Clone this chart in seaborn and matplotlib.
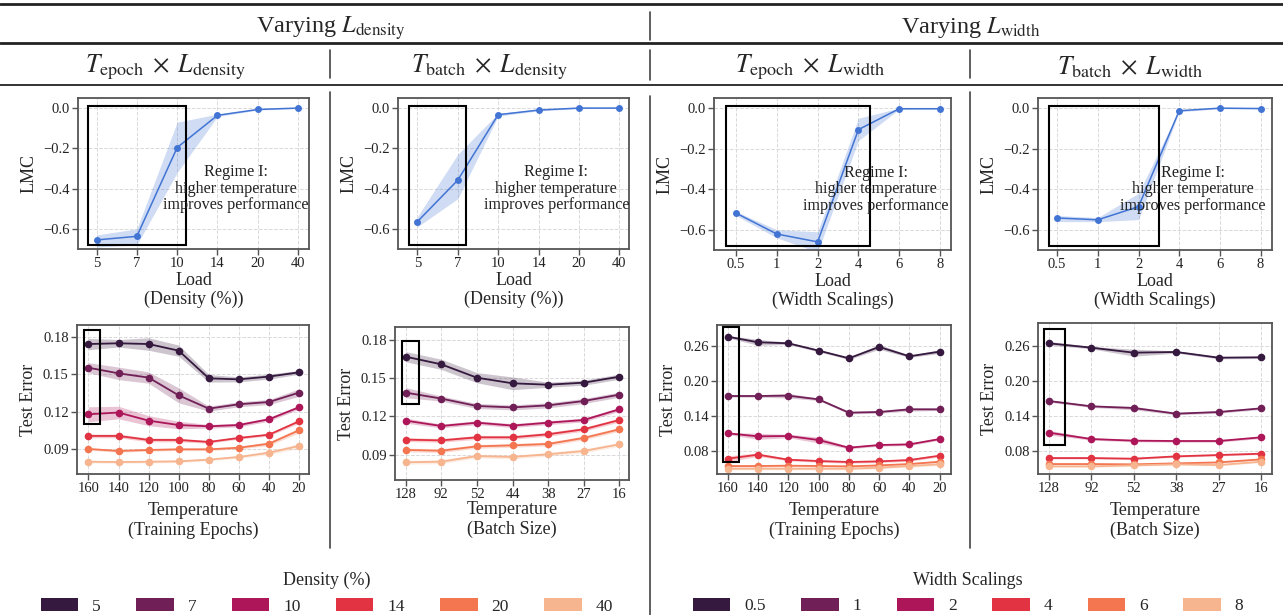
import numpy as np
import pandas as pd
import matplotlib
matplotlib.use("Agg")
import matplotlib.pyplot as plt
import seaborn as sns
from matplotlib.patches import Patch, Rectangle
from matplotlib.lines import Line2D

# ---------------- data ----------------
density_cats = ["5", "7", "10", "14", "20", "40"]
width_cats = ["0.5", "1", "2", "4", "6", "8"]
epoch_ticks = ["160", "140", "120", "100", "80", "60", "40", "20"]
batch_ticks_d = ["128", "92", "52", "44", "38", "27", "16"]
batch_ticks_w = ["128", "92", "52", "38", "27", "16"]

# LMC (mid, lower, upper)
lmc_epoch_density = [-0.655, -0.637, -0.196, -0.036, -0.007, 0.0]
lmc_epoch_density_lo = [-0.69, -0.68, -0.32, -0.042, -0.010, -0.002]
lmc_epoch_density_hi = [-0.63, -0.60, -0.07, -0.030, -0.004, 0.002]

lmc_batch_density = [-0.564, -0.358, -0.033, -0.010, 0.0, 0.0]
lmc_batch_density_lo = [-0.59, -0.45, -0.040, -0.014, -0.003, -0.002]
lmc_batch_density_hi = [-0.54, -0.23, -0.026, -0.006, 0.003, 0.002]

lmc_epoch_width = [-0.518, -0.621, -0.660, -0.106, -0.003, -0.003]
lmc_epoch_width_lo = [-0.53, -0.64, -0.71, -0.16, -0.006, -0.005]
lmc_epoch_width_hi = [-0.51, -0.60, -0.61, -0.05, 0.000, -0.001]

lmc_batch_width = [-0.542, -0.551, -0.486, -0.013, 0.0, -0.002]
lmc_batch_width_lo = [-0.56, -0.56, -0.55, -0.018, -0.003, -0.004]
lmc_batch_width_hi = [-0.53, -0.54, -0.42, -0.008, 0.003, 0.000]

# Test error: T_epoch x L_density
te_ed = {
    "5":  [0.1741, 0.1747, 0.1741, 0.1688, 0.1467, 0.1459, 0.1481, 0.1515],
    "7":  [0.1552, 0.1507, 0.1473, 0.1331, 0.1225, 0.1260, 0.1278, 0.1353],
    "10": [0.1180, 0.1194, 0.1129, 0.1094, 0.1084, 0.1094, 0.1140, 0.1236],
    "14": [0.1007, 0.1007, 0.0975, 0.0975, 0.0959, 0.0991, 0.1017, 0.1124],
    "20": [0.0903, 0.0887, 0.0895, 0.0900, 0.0900, 0.0913, 0.0945, 0.1052],
    "40": [0.0801, 0.0799, 0.0801, 0.0804, 0.0818, 0.0839, 0.0873, 0.0927],
}
te_ed_err = {
    "5":  [0.0045, 0.003, 0.005, 0.0045, 0.003, 0.002, 0.002, 0.0015],
    "7":  [0.004, 0.005, 0.0045, 0.006, 0.002, 0.002, 0.002, 0.003],
    "10": [0.006, 0.005, 0.004, 0.003, 0.0015, 0.0015, 0.0015, 0.0015],
    "14": [0.0015, 0.0015, 0.0015, 0.0015, 0.001, 0.001, 0.001, 0.0015],
    "20": [0.001, 0.001, 0.001, 0.001, 0.001, 0.001, 0.0015, 0.002],
    "40": [0.001, 0.001, 0.001, 0.001, 0.001, 0.001, 0.0015, 0.002],
}
# Test error: T_batch x L_density
te_bd = {
    "5":  [0.1669, 0.1609, 0.1504, 0.1460, 0.1449, 0.1465, 0.1512],
    "7":  [0.1387, 0.1340, 0.1282, 0.1271, 0.1287, 0.1321, 0.1371],
    "10": [0.1167, 0.1125, 0.1151, 0.1128, 0.1151, 0.1172, 0.1256],
    "14": [0.1018, 0.1012, 0.1036, 0.1036, 0.1060, 0.1099, 0.1172],
    "20": [0.0937, 0.0931, 0.0965, 0.0973, 0.0984, 0.1031, 0.1099],
    "40": [0.0840, 0.0845, 0.0889, 0.0882, 0.0903, 0.0929, 0.0981],
}
te_bd_err = {
    "5":  [0.004, 0.004, 0.004, 0.005, 0.002, 0.002, 0.002],
    "7":  [0.004, 0.002, 0.002, 0.002, 0.002, 0.002, 0.002],
    "10": [0.002, 0.0015, 0.0015, 0.0015, 0.0015, 0.0015, 0.0015],
    "14": [0.0015, 0.0015, 0.0015, 0.0015, 0.0015, 0.0015, 0.0015],
    "20": [0.0015, 0.0015, 0.0015, 0.0015, 0.0015, 0.0015, 0.0015],
    "40": [0.0015, 0.0015, 0.0015, 0.0015, 0.0015, 0.0015, 0.0015],
}
# Test error: T_epoch x L_width
te_ew = {
    "0.5": [0.2760, 0.2663, 0.2646, 0.2520, 0.2388, 0.2583, 0.2422, 0.2503],
    "1":   [0.1740, 0.1740, 0.1746, 0.1683, 0.1454, 0.1465, 0.1511, 0.1511],
    "2":   [0.1099, 0.1047, 0.1053, 0.0984, 0.0852, 0.0898, 0.0909, 0.1001],
    "4":   [0.0663, 0.0732, 0.0646, 0.0623, 0.0606, 0.0617, 0.0640, 0.0715],
    "6":   [0.0537, 0.0537, 0.0543, 0.0537, 0.0531, 0.0548, 0.0571, 0.0611],
    "8":   [0.0491, 0.0491, 0.0491, 0.0491, 0.0491, 0.0508, 0.0537, 0.0566],
}
te_ew_err = {
    "0.5": [0.002, 0.005, 0.002, 0.002, 0.002, 0.004, 0.002, 0.003],
    "1":   [0.002, 0.002, 0.004, 0.002, 0.002, 0.002, 0.003, 0.002],
    "2":   [0.002, 0.005, 0.003, 0.005, 0.002, 0.002, 0.002, 0.002],
    "4":   [0.005, 0.003, 0.002, 0.002, 0.002, 0.002, 0.002, 0.002],
    "6":   [0.002, 0.002, 0.002, 0.002, 0.002, 0.002, 0.002, 0.002],
    "8":   [0.002, 0.002, 0.002, 0.002, 0.002, 0.002, 0.002, 0.002],
}
# Test error: T_batch x L_width
te_bw = {
    "0.5": [0.2646, 0.2571, 0.2485, 0.2497, 0.2399, 0.2405],
    "1":   [0.1654, 0.1563, 0.1534, 0.1437, 0.1465, 0.1528],
    "2":   [0.1110, 0.1001, 0.0973, 0.0967, 0.0967, 0.1030],
    "4":   [0.0674, 0.0674, 0.0663, 0.0703, 0.0726, 0.0749],
    "6":   [0.0571, 0.0571, 0.0566, 0.0583, 0.0600, 0.0652],
    "8":   [0.0531, 0.0531, 0.0548, 0.0566, 0.0554, 0.0611],
}
te_bw_err = {
    "0.5": [0.003, 0.002, 0.006, 0.002, 0.002, 0.002],
    "1":   [0.002, 0.002, 0.003, 0.002, 0.002, 0.002],
    "2":   [0.004, 0.002, 0.002, 0.002, 0.002, 0.002],
    "4":   [0.0015, 0.0015, 0.0015, 0.0015, 0.0015, 0.0015],
    "6":   [0.0015, 0.0015, 0.0015, 0.0015, 0.0015, 0.0015],
    "8":   [0.0015, 0.0015, 0.0015, 0.0015, 0.0015, 0.0015],
}

# highlight boxes (x0, x1, y0, y1) in category / data units
box_top = [(-0.21, 2.21, -0.68, 0.01), (-0.2, 1.2, -0.68, 0.01),
           (-0.25, 3.29, -0.68, 0.01), (-0.2, 2.5, -0.68, 0.01)]
box_bot = [(-0.14, 0.37, 0.110, 0.1853), (-0.11, 0.37, 0.130, 0.1795),
           (-0.15, 0.36, 0.061, 0.292), (-0.12, 0.38, 0.089, 0.290)]

# ---------------- style ----------------
sns.set_theme(style="ticks")
plt.rcParams["font.family"] = ["Liberation Serif", "DejaVu Serif"]
plt.rcParams["mathtext.fontset"] = "stix"
plt.rcParams["axes.unicode_minus"] = True

W, H = 1283, 615
fig = plt.figure(figsize=(W / 100, H / 100), dpi=100)
fig.patch.set_facecolor("white")

def ax_px(l, t, r, b):
    return fig.add_axes([l / W, 1 - b / H, (r - l) / W, (b - t) / H])

SPINE = "#555555"
BLUE = "#4274d4"
palette = sns.color_palette("rocket", 6)

def style_ax(ax):
    for s in ax.spines.values():
        s.set_color(SPINE)
        s.set_linewidth(1.3)
    ax.grid(True, linestyle="--", color="#d9d9d9", linewidth=0.7)
    ax.set_axisbelow(True)
    ax.tick_params(axis="both", labelsize=10.5, length=4, width=1, color=SPINE,
                   labelcolor="#222222", pad=2)

def band_frame(cats, mid, lo, hi, series=None):
    rows = []
    for c, m, a, b in zip(cats, mid, lo, hi):
        for v in (a, m, b):
            rows.append({"x": c, "y": v, "s": series})
    return rows

top_specs = [
    ((78, 98, 309, 249), density_cats, lmc_epoch_density, lmc_epoch_density_lo, lmc_epoch_density_hi,
     (-0.46, 5.27), "Load\n(Density (%))", 3.45),
    ((398, 98, 629, 249), density_cats, lmc_batch_density, lmc_batch_density_lo, lmc_batch_density_hi,
     (-0.48, 5.24), "Load\n(Density (%))", 3.44),
    ((714, 98, 951, 250), width_cats, lmc_epoch_width, lmc_epoch_width_lo, lmc_epoch_width_hi,
     (-0.54, 5.27), "Load\n(Width Scalings)", 3.43),
    ((1038, 98, 1272, 250), width_cats, lmc_batch_width, lmc_batch_width_lo, lmc_batch_width_hi,
     (-0.47, 5.28), "Load\n(Width Scalings)", 3.33),
]

for i, (px, cats, mid, lo, hi, xl, xlabel, tx) in enumerate(top_specs):
    ax = ax_px(*px)
    df = pd.DataFrame(band_frame(cats, mid, lo, hi))
    sns.lineplot(data=df, x="x", y="y", ax=ax, estimator="median", errorbar=("pi", 100),
                 color=BLUE, marker="o", markersize=5, markeredgewidth=0, linewidth=1.1,
                 err_kws={"alpha": 0.25, "linewidth": 0}, sort=False)
    style_ax(ax)
    ax.set_xlim(*xl)
    ax.set_ylim(-0.70, 0.05)
    ax.set_yticks([0.0, -0.2, -0.4, -0.6])
    ax.set_yticklabels(["0.0", "\u22120.2", "\u22120.4", "\u22120.6"])
    ax.set_xlabel(xlabel, fontsize=13, labelpad=1, linespacing=1.15)
    ax.set_ylabel("LMC", fontsize=13, labelpad=4)
    x0, x1, y0, y1 = box_top[i]
    ax.add_patch(Rectangle((x0, y0), x1 - x0, y1 - y0, fill=False, edgecolor="black",
                           linewidth=1.5, zorder=5))
    ax.text(tx, -0.40, "Regime I:\nhigher temperature\nimproves performance",
            ha="center", va="center", fontsize=11.6, color="#222222", linespacing=1.05, zorder=6)

bot_specs = [
    ((77, 325, 309, 474), epoch_ticks, density_cats, te_ed, te_ed_err, (-0.38, 7.33),
     (0.0703, 0.1893), [0.09, 0.12, 0.15, 0.18], "Temperature\n(Training Epochs)"),
    ((395, 327, 629, 480), batch_ticks_d, density_cats, te_bd, te_bd_err, (-0.30, 6.27),
     (0.0701, 0.1902), [0.09, 0.12, 0.15, 0.18], "Temperature\n(Batch Size)"),
    ((717, 325, 951, 474), epoch_ticks, width_cats, te_ew, te_ew_err, (-0.35, 7.37),
     (0.040, 0.296), [0.08, 0.14, 0.20, 0.26], "Temperature\n(Training Epochs)"),
    ((1038, 323, 1272, 474), batch_ticks_w, width_cats, te_bw, te_bw_err, (-0.26, 5.26),
     (0.040, 0.2995), [0.08, 0.14, 0.20, 0.26], "Temperature\n(Batch Size)"),
]

for i, (px, xcats, series, vals, errs, xl, yl, yt, xlabel) in enumerate(bot_specs):
    ax = ax_px(*px)
    rows = []
    for s in series:
        m = np.array(vals[s]); e = np.array(errs[s])
        rows += band_frame(xcats, m, m - e, m + e, series=s)
    df = pd.DataFrame(rows)
    sns.lineplot(data=df, x="x", y="y", hue="s", hue_order=series, palette=palette, ax=ax,
                 estimator="median", errorbar=("pi", 100), marker="o", markersize=5.5,
                 markeredgewidth=0, linewidth=1.3, err_kws={"alpha": 0.25, "linewidth": 0},
                 sort=False, legend=False)
    style_ax(ax)
    ax.set_xlim(*xl)
    ax.set_ylim(*yl)
    ax.set_yticks(yt)
    ax.set_yticklabels([f"{v:.2f}" for v in yt])
    lp = 5 if i != 1 else 0
    ax.set_xlabel(xlabel, fontsize=13, labelpad=lp, linespacing=1.15)
    ax.set_ylabel("Test Error", fontsize=13, labelpad=4)
    x0, x1, y0, y1 = box_bot[i]
    ax.add_patch(Rectangle((x0, y0), x1 - x0, y1 - y0, fill=False, edgecolor="black",
                           linewidth=1.5, zorder=5))

# ---------------- header / separators ----------------
def hline(y, x0, x1, lw, color="#222222"):
    fig.add_artist(Line2D([x0 / W, x1 / W], [1 - y / H, 1 - y / H], color=color, lw=lw,
                          transform=fig.transFigure))

def vline(x, y0, y1, lw=1.2, color="#444444"):
    fig.add_artist(Line2D([x / W, x / W], [1 - y0 / H, 1 - y1 / H], color=color, lw=lw,
                          transform=fig.transFigure))

hline(4, 0, W, 2.0)
hline(42.5, 0, W, 2.0)
hline(85, 0, W, 1.3)
vline(650, 12, 40)
vline(650, 50, 80)
vline(650, 96, 615)
vline(330, 50, 78)
vline(330, 92, 548)
vline(970, 50, 78)
vline(970, 92, 548)

TF = 17.5
SF = 18.5
fig.text(331 / W, 1 - 28 / H, r"Varying $L_{\mathrm{density}}$", ha="center", va="center", fontsize=TF)
fig.text(971 / W, 1 - 28 / H, r"Varying $L_{\mathrm{width}}$", ha="center", va="center", fontsize=TF)
fig.text(165 / W, 1 - 67 / H, r"$T_{\mathrm{epoch}}\;\times\;L_{\mathrm{density}}$", ha="center", va="center", fontsize=SF)
fig.text(489 / W, 1 - 67 / H, r"$T_{\mathrm{batch}}\;\times\;L_{\mathrm{density}}$", ha="center", va="center", fontsize=SF)
fig.text(810 / W, 1 - 67 / H, r"$T_{\mathrm{epoch}}\;\times\;L_{\mathrm{width}}$", ha="center", va="center", fontsize=SF)
fig.text(1130 / W, 1 - 67 / H, r"$T_{\mathrm{batch}}\;\times\;L_{\mathrm{width}}$", ha="center", va="center", fontsize=SF)

# ---------------- legends ----------------
def make_legend(labels, title, cx):
    handles = [Patch(facecolor=c, edgecolor="none") for c in palette]
    leg = fig.legend(handles, labels, title=title, ncol=6, loc="upper center",
                     bbox_to_anchor=(cx / W, 1 - 572 / H), frameon=False, fontsize=12.5,
                     title_fontsize=13, handlelength=2.15, handleheight=0.8,
                     handletextpad=0.8, columnspacing=2.05, borderpad=0, borderaxespad=0)
    return leg

make_legend(density_cats, "Density (%)", 327)
make_legend(width_cats, "Width Scalings", 968)

fig.savefig("out.png", dpi=100, facecolor="white")
